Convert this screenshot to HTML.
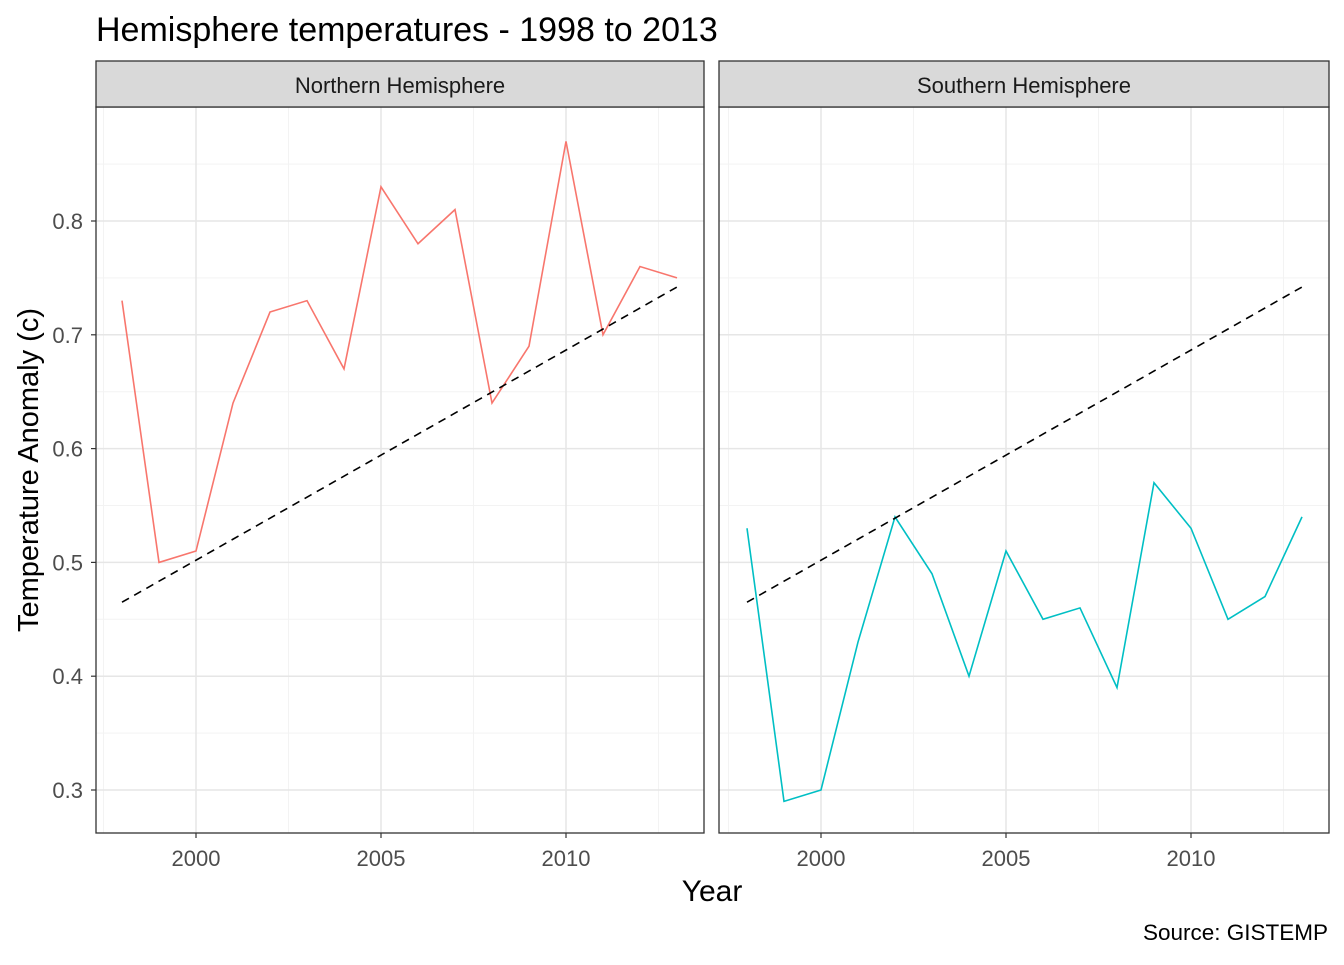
<!DOCTYPE html>
<html><head><meta charset="utf-8"><style>
body{margin:0;background:#fff;}
svg text{font-family:"Liberation Sans",Arial,sans-serif;}
</style></head><body>
<svg id="chart" width="1344" height="960" xmlns="http://www.w3.org/2000/svg">
<rect width="1344" height="960" fill="#fff"/>
<text x="96" y="41" font-size="34" fill="#000">Hemisphere temperatures - 1998 to 2013</text>
<text x="38" y="470" font-size="29" fill="#000" text-anchor="middle" transform="rotate(-90 38 470)">Temperature Anomaly (c)</text>
<text x="712" y="901" font-size="30" fill="#000" text-anchor="middle">Year</text>
<text x="1328" y="940" font-size="22.5" fill="#000" text-anchor="end">Source: GISTEMP</text>
<g id="panels"></g>
</svg>
<script>
const years = [1998,1999,2000,2001,2002,2003,2004,2005,2006,2007,2008,2009,2010,2011,2012,2013];
const northValues = [0.73,0.50,0.51,0.64,0.72,0.73,0.67,0.83,0.78,0.81,0.64,0.69,0.87,0.70,0.76,0.75];
const southValues = [0.53,0.29,0.30,0.43,0.54,0.49,0.40,0.51,0.45,0.46,0.39,0.57,0.53,0.45,0.47,0.54];
const trendStart = [1998,0.465];
const trendEnd = [2013,0.742];
const yTicks = [0.3,0.4,0.5,0.6,0.7,0.8];
const yMinor = [0.35,0.45,0.55,0.65,0.75,0.85];
const xTicks = [2000,2005,2010];
const xMinor = [1997.5,2002.5,2007.5,2012.5];
const panelNames = ["Northern Hemisphere","Southern Hemisphere"];

(function(){
const NS="http://www.w3.org/2000/svg";
const g=document.getElementById('panels');
const plotTop=107,plotBottom=833;
const yS=v=>790-(v-0.3)*1138;
function mk(tag,attrs,parent){const e=document.createElementNS(NS,tag);for(const k in attrs)e.setAttribute(k,attrs[k]);(parent||g).appendChild(e);return e;}
const panels=[{x0:96,x1:704,vals:northValues,color:"#F8766D",key:"north"},{x0:719,x1:1329,vals:southValues,color:"#00BFC4",key:"south"}];
panels.forEach((p,i)=>{
  const off=(i===0)?0:625;
  const xS=yr=>196+off+(yr-2000)*37;
  const pg=mk('g',{});
  
  
  yMinor.forEach(v=>{const l=mk('line',{x1:p.x0,x2:p.x1,y1:yS(v),y2:yS(v),stroke:'#f3f3f3','stroke-width':1},pg);});
  xMinor.forEach(v=>{const l=mk('line',{x1:xS(v),x2:xS(v),y1:plotTop,y2:plotBottom,stroke:'#f3f3f3','stroke-width':1},pg);});
  yTicks.forEach(v=>{const l=mk('line',{x1:p.x0,x2:p.x1,y1:yS(v),y2:yS(v),stroke:'#e6e6e6','stroke-width':1.5},pg);});
  xTicks.forEach(v=>{const l=mk('line',{x1:xS(v),x2:xS(v),y1:plotTop,y2:plotBottom,stroke:'#e6e6e6','stroke-width':1.5},pg);
    mk('line',{x1:xS(v),x2:xS(v),y1:plotBottom,y2:plotBottom+5,stroke:'#333','stroke-width':1.2},pg);
    const t=mk('text',{x:xS(v),y:866,'font-size':22,fill:'#4d4d4d','text-anchor':'middle'},pg);t.textContent=v;});
  const pts=years.map((y,j)=>xS(y)+','+yS(p.vals[j])).join(' ');
  const line=mk('polyline',{points:pts,fill:'none',stroke:p.color,'stroke-width':1.6},pg);
  
  
  const tr=mk('line',{x1:xS(trendStart[0]),y1:yS(trendStart[1]),x2:xS(trendEnd[0]),y2:yS(trendEnd[1]),stroke:'#000','stroke-width':1.6,'stroke-dasharray':'8,6'},pg);
  
  
  const fr=mk('rect',{x:p.x0,y:plotTop,width:p.x1-p.x0,height:plotBottom-plotTop,fill:'none',stroke:'#333','stroke-width':1.3},pg);
  
  
  const st=mk('rect',{x:p.x0,y:61,width:p.x1-p.x0,height:46,fill:'#d9d9d9',stroke:'#333','stroke-width':1.3},pg);
  
  
  const stt=mk('text',{x:(p.x0+p.x1)/2,y:93,'font-size':22,fill:'#1a1a1a','text-anchor':'middle'},pg);
  stt.textContent=panelNames[i];
  
  
  if(i===0){yTicks.forEach(v=>{mk('line',{x1:p.x0-5,x2:p.x0,y1:yS(v),y2:yS(v),stroke:'#333','stroke-width':1.2},pg);
    const t=mk('text',{x:p.x0-13,y:yS(v)+8,'font-size':22,fill:'#4d4d4d','text-anchor':'end'},pg);t.textContent=v.toFixed(1);});}
});
})();
</script>
</body></html>
